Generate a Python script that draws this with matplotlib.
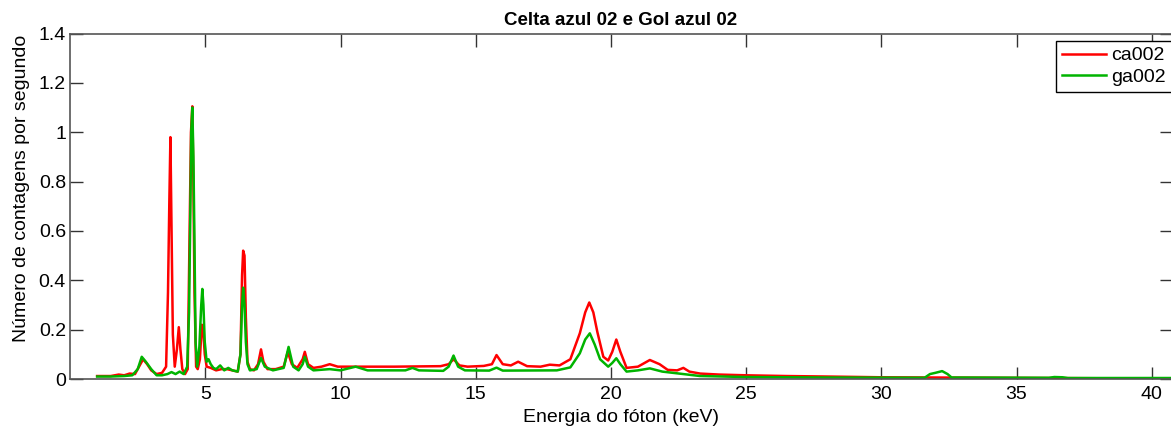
import numpy as np
import matplotlib
matplotlib.use("Agg")
import matplotlib.pyplot as plt
from matplotlib.ticker import FormatStrFormatter

# ca002 spectrum (energy in keV, counts per second)
ca_kev = [1.0, 1.5, 1.8, 2.0, 2.2, 2.4, 2.6, 2.7, 2.85, 3.0, 3.2, 3.4, 3.55, 3.62, 3.67,
          3.71, 3.75, 3.8, 3.87, 3.95, 4.02, 4.08, 4.15, 4.25, 4.35, 4.42, 4.47, 4.52,
          4.56, 4.6, 4.66, 4.72, 4.8, 4.87, 4.92, 4.98, 5.05, 5.2, 5.4, 5.6, 5.8, 6.0,
          6.2, 6.3, 6.36, 6.40, 6.45, 6.5, 6.56, 6.65, 6.8, 6.95, 7.06, 7.15, 7.3, 7.6,
          7.9, 8.05, 8.2, 8.4, 8.6, 8.68, 8.8, 9.0, 9.3, 9.6, 9.9, 10.5, 12.0, 13.7,
          14.0, 14.18, 14.4, 14.7, 15.3, 15.6, 15.77, 16.0, 16.3, 16.57, 16.9, 17.4,
          17.74, 18.1, 18.5, 18.85, 19.05, 19.2, 19.35, 19.5, 19.72, 19.9, 20.05, 20.2,
          20.35, 20.58, 21.0, 21.44, 21.8, 22.1, 22.45, 22.68, 22.9, 23.3, 24.0, 25.0,
          26.5, 28.0, 30.0, 32.0, 34.0, 36.0, 38.0, 41.0]
ca_cps = [0.012, 0.012, 0.018, 0.015, 0.022, 0.02, 0.06, 0.08, 0.06, 0.035, 0.02, 0.025,
          0.05, 0.35, 0.72, 0.98, 0.62, 0.18, 0.05, 0.12, 0.21, 0.12, 0.04, 0.02, 0.04,
          0.6, 1.0, 1.105, 0.8, 0.35, 0.05, 0.04, 0.08, 0.22, 0.2, 0.1, 0.05, 0.045,
          0.035, 0.04, 0.04, 0.035, 0.03, 0.1, 0.42, 0.52, 0.5, 0.25, 0.07, 0.04, 0.035,
          0.06, 0.12, 0.07, 0.04, 0.04, 0.05, 0.11, 0.06, 0.045, 0.08, 0.11, 0.06, 0.045,
          0.05, 0.06, 0.05, 0.05, 0.05, 0.052, 0.06, 0.08, 0.055, 0.05, 0.053, 0.06,
          0.097, 0.06, 0.055, 0.07, 0.052, 0.05, 0.058, 0.055, 0.08, 0.185, 0.27, 0.31,
          0.27, 0.19, 0.09, 0.075, 0.11, 0.16, 0.11, 0.045, 0.05, 0.077, 0.06, 0.037,
          0.035, 0.045, 0.03, 0.022, 0.018, 0.015, 0.012, 0.01, 0.007, 0.006, 0.005,
          0.004, 0.003, 0.003]

# ga002 spectrum
ga_kev = [1.0, 1.5, 2.0, 2.3, 2.5, 2.65, 2.8, 3.0, 3.2, 3.4, 3.6, 3.75, 3.9, 4.05, 4.2,
          4.33, 4.4, 4.44, 4.48, 4.52, 4.56, 4.6, 4.64, 4.7, 4.78, 4.85, 4.89, 4.93,
          4.98, 5.05, 5.12, 5.2, 5.3, 5.4, 5.55, 5.7, 5.85, 6.0, 6.2, 6.3, 6.36, 6.40,
          6.45, 6.5, 6.56, 6.65, 6.9, 7.06, 7.2, 7.5, 7.9, 8.08, 8.25, 8.45, 8.6, 8.68,
          8.8, 9.0, 9.6, 10.0, 10.56, 11.0, 12.4, 12.66, 12.9, 13.8, 14.0, 14.18, 14.35,
          14.6, 15.5, 15.77, 16.0, 18.0, 18.5, 18.85, 19.05, 19.22, 19.4, 19.6, 19.9,
          20.05, 20.2, 20.35, 20.58, 21.0, 21.44, 21.9, 22.68, 23.3, 25.0, 28.0, 31.6,
          31.8, 32.0, 32.25, 32.45, 32.6, 36.2, 36.4, 36.7, 36.9, 41.0]
ga_cps = [0.01, 0.01, 0.012, 0.015, 0.04, 0.09, 0.07, 0.04, 0.015, 0.015, 0.02, 0.028,
          0.02, 0.03, 0.02, 0.05, 0.27, 0.62, 1.0, 1.1, 0.9, 0.55, 0.15, 0.05, 0.13, 0.3,
          0.365, 0.3, 0.15, 0.07, 0.08, 0.06, 0.045, 0.04, 0.055, 0.035, 0.045, 0.035,
          0.03, 0.1, 0.3, 0.37, 0.3, 0.15, 0.06, 0.035, 0.04, 0.085, 0.05, 0.035, 0.045,
          0.13, 0.05, 0.035, 0.06, 0.09, 0.05, 0.035, 0.04, 0.035, 0.05, 0.035, 0.035,
          0.045, 0.035, 0.033, 0.05, 0.095, 0.05, 0.035, 0.034, 0.046, 0.034, 0.035,
          0.047, 0.104, 0.16, 0.185, 0.14, 0.08, 0.05, 0.065, 0.084, 0.06, 0.03, 0.035,
          0.043, 0.03, 0.02, 0.012, 0.008, 0.006, 0.005, 0.02, 0.025, 0.032, 0.02, 0.006,
          0.005, 0.008, 0.007, 0.004, 0.004]

series_names = ["ca002", "ga002"]
x_ticks = [5, 10, 15, 20, 25, 30, 35, 40]
y_ticks = [0, 0.2, 0.4, 0.6, 0.8, 1.0, 1.2, 1.4]


def main():
    plt.rcParams['font.family'] = ['Liberation Sans', 'DejaVu Sans']
    fig = plt.figure(figsize=(11.71, 4.29), dpi=100)
    ax = fig.add_axes([70.1 / 1171, 50 / 429, (1172 - 70.1) / 1171, 345.5 / 429])

    ax.plot(ca_kev, ca_cps, color="#ff0000", lw=1.8, label=series_names[0])
    ax.plot(ga_kev, ga_cps, color="#00b400", lw=1.8, label=series_names[1])

    ax.set_xlim(0, (1172 - 70.1) / 27.04)
    ax.set_ylim(0, 1.4)
    ax.set_xticks(x_ticks)
    ax.set_yticks(y_ticks)
    ax.yaxis.set_major_formatter(FormatStrFormatter('%g'))
    ax.tick_params(direction='in', length=9, width=1, labelsize=14, colors='#333333',
                   top=True, right=True, labelcolor='black', pad=5)
    ax.tick_params(axis='y', pad=3)
    for s in ax.spines.values():
        s.set_color('#555555')
        s.set_linewidth(1.2)

    ax.set_title("Celta azul 02 e Gol azul 02", fontsize=13.5, fontweight='bold', pad=6)
    ax.set_xlabel("Energia do fóton (keV)", fontsize=14, labelpad=4)
    ax.set_ylabel("Número de contagens por segundo", fontsize=14)
    ax.yaxis.set_label_coords(-0.0364, 0.553)

    leg = ax.legend(loc='upper left', bbox_to_anchor=(1055.7 / 1171, 1 - 41 / 429),
                    bbox_transform=fig.transFigure, borderaxespad=0, fancybox=False,
                    framealpha=1, edgecolor='black', fontsize=14, handlelength=2.3,
                    handletextpad=0.25, labelspacing=0.2, borderpad=0.3)
    leg.get_frame().set_linewidth(1.0)

    fig.savefig("out.png", dpi=100)


if __name__ == "__main__":
    main()
